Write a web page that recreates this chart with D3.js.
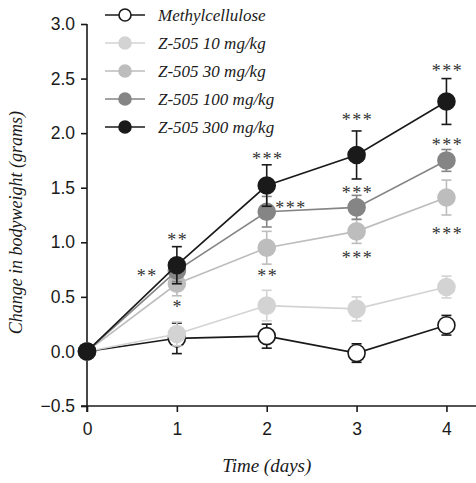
<!DOCTYPE html>
<html><head><meta charset="utf-8">
<script src="https://cdn.jsdelivr.net/npm/d3@7"></script>
<style>body{margin:0;background:#fff}svg{display:block}</style>
</head><body>
<script>
const days = [0, 1, 2, 3, 4];
const seriesNames = ["Methylcellulose", "Z-505 10 mg/kg", "Z-505 30 mg/kg", "Z-505 100 mg/kg", "Z-505 300 mg/kg"];
const methylcellulose = [0, 0.12, 0.14, -0.015, 0.24];
const methylcelluloseErr = [0, 0.14, 0.11, 0.085, 0.09];
const z505_10 = [0, 0.16, 0.42, 0.39, 0.59];
const z505_10Err = [0, 0.11, 0.14, 0.11, 0.1];
const z505_30 = [0, 0.62, 0.95, 1.10, 1.41];
const z505_30Err = [0, 0.11, 0.15, 0.11, 0.16];
const z505_100 = [0, 0.74, 1.28, 1.32, 1.75];
const z505_100Err = [0, 0.1, 0.14, 0.11, 0.1];
const z505_300 = [0, 0.79, 1.52, 1.80, 2.29];
const z505_300Err = [0, 0.17, 0.19, 0.22, 0.21];
const yTicks = [-0.5, 0, 0.5, 1.0, 1.5, 2.0, 2.5, 3.0];
const xTicks = [0, 1, 2, 3, 4];
// significance marks: day, value, label
const starDays = [1, 0.66, 1, 2, 2.26, 2, 3, 3, 3, 4, 4, 4];
const starValues = [1.045, 0.715, 0.43, 1.79, 1.346, 0.715, 2.15, 1.48, 0.88, 2.60, 1.92, 1.107];
const starLabels = ["**", "**", "*", "***", "***", "**", "***", "***", "***", "***", "***", "***"];

const fills = ["#ffffff", "#d3d3d3", "#bdbdbd", "#858585", "#1a1a1a"];
const strokes = ["#1a1a1a", "#d3d3d3", "#bdbdbd", "#858585", "#1a1a1a"];
const values = [methylcellulose, z505_10, z505_30, z505_100, z505_300];
const errs = [methylcelluloseErr, z505_10Err, z505_30Err, z505_100Err, z505_300Err];

const W = 476, H = 483;
const svg = d3.select("body").append("svg").attr("width", W).attr("height", H);
const x = d3.scaleLinear().domain([0, 4.34]).range([87, 477]);
const y = d3.scaleLinear().domain([-0.5, 3.0]).range([406, 24]);

const tickFont = "'Liberation Sans', Arial, sans-serif";
const scriptFont = "'Liberation Serif', serif";

// axes
const yAxis = svg.append("g").attr("transform", `translate(${x(0)},0)`)
  .call(d3.axisLeft(y).tickValues(yTicks).tickSize(6).tickSizeOuter(0)
    .tickFormat(d => d3.format(".1f")(d)));
const xAxis = svg.append("g").attr("transform", `translate(0,${y(-0.5)})`)
  .call(d3.axisBottom(x).tickValues(xTicks).tickSize(6).tickSizeOuter(0).tickFormat(d3.format("d")));
[yAxis, xAxis].forEach(g => {
  g.select(".domain").attr("stroke", "#1a1a1a").attr("stroke-width", 1.6);
  g.selectAll(".tick line").attr("stroke", "#1a1a1a").attr("stroke-width", 1.6);
  g.selectAll(".tick text").attr("font-family", tickFont).attr("font-size", 17.5).attr("fill", "#1a1a1a");
});
yAxis.selectAll(".tick text").attr("x", -12);
xAxis.selectAll(".tick text").attr("y", 17);
xAxis.select(".domain").attr("d", `M${x(0)-6},0H${W}`);
yAxis.select(".domain").attr("d", `M0,${y(3)}V${y(-0.5)+6}`);

// series
const line = d3.line().x((d, i) => x(days[i])).y(d => y(d));
values.forEach((vals, s) => {
  const g = svg.append("g");
  g.append("path").attr("d", line(vals)).attr("fill", "none")
    .attr("stroke", strokes[s]).attr("stroke-width", 1.6);
  vals.forEach((v, i) => {
    const e = errs[s][i];
    if (e > 0) {
      g.append("line").attr("x1", x(days[i])).attr("x2", x(days[i]))
        .attr("y1", y(v + e)).attr("y2", y(v - e)).attr("stroke", strokes[s]).attr("stroke-width", 1.6);
      [v + e, v - e].forEach(ev => g.append("line")
        .attr("x1", x(days[i]) - 5).attr("x2", x(days[i]) + 5)
        .attr("y1", y(ev)).attr("y2", y(ev)).attr("stroke", strokes[s]).attr("stroke-width", 1.6));
    }
  });
  vals.forEach((v, i) => {
    g.append("circle").attr("cx", x(days[i])).attr("cy", y(v)).attr("r", 8.5)
      .attr("fill", fills[s]).attr("stroke", strokes[s]).attr("stroke-width", 1.6);
  });
});

// stars
starLabels.forEach((lab, i) => {
  svg.append("text").attr("x", x(starDays[i]) + 1).attr("y", y(starValues[i]) + 9)
    .attr("text-anchor", "middle").attr("font-family", "'Liberation Serif', serif")
    .attr("font-size", 18).attr("letter-spacing", 1.5).attr("fill", "#333").text(lab);
});

// legend
const leg = svg.append("g");
seriesNames.forEach((name, i) => {
  const ly = 15 + i * 28;
  leg.append("line").attr("x1", 105).attr("x2", 145).attr("y1", ly).attr("y2", ly)
    .attr("stroke", strokes[i]).attr("stroke-width", 1.6);
  leg.append("circle").attr("cx", 125).attr("cy", ly).attr("r", 6)
    .attr("fill", fills[i]).attr("stroke", strokes[i]).attr("stroke-width", 1.6);
  leg.append("text").attr("x", 158).attr("y", ly + 6).attr("font-family", scriptFont)
    .attr("font-style", "italic").attr("font-size", 17).attr("fill", "#1a1a1a").text(name);
});

// axis titles
svg.append("text").attr("x", x(2)).attr("y", 472).attr("text-anchor", "middle")
  .attr("font-family", scriptFont).attr("font-style", "italic").attr("font-size", 19)
  .attr("fill", "#1a1a1a").text("Time (days)");
svg.append("text").attr("transform", `translate(22,${y(1.18)}) rotate(-90)`).attr("text-anchor", "middle")
  .attr("font-family", scriptFont).attr("font-style", "italic").attr("font-size", 18)
  .attr("fill", "#1a1a1a").text("Change in bodyweight (grams)");
</script>
</body></html>
